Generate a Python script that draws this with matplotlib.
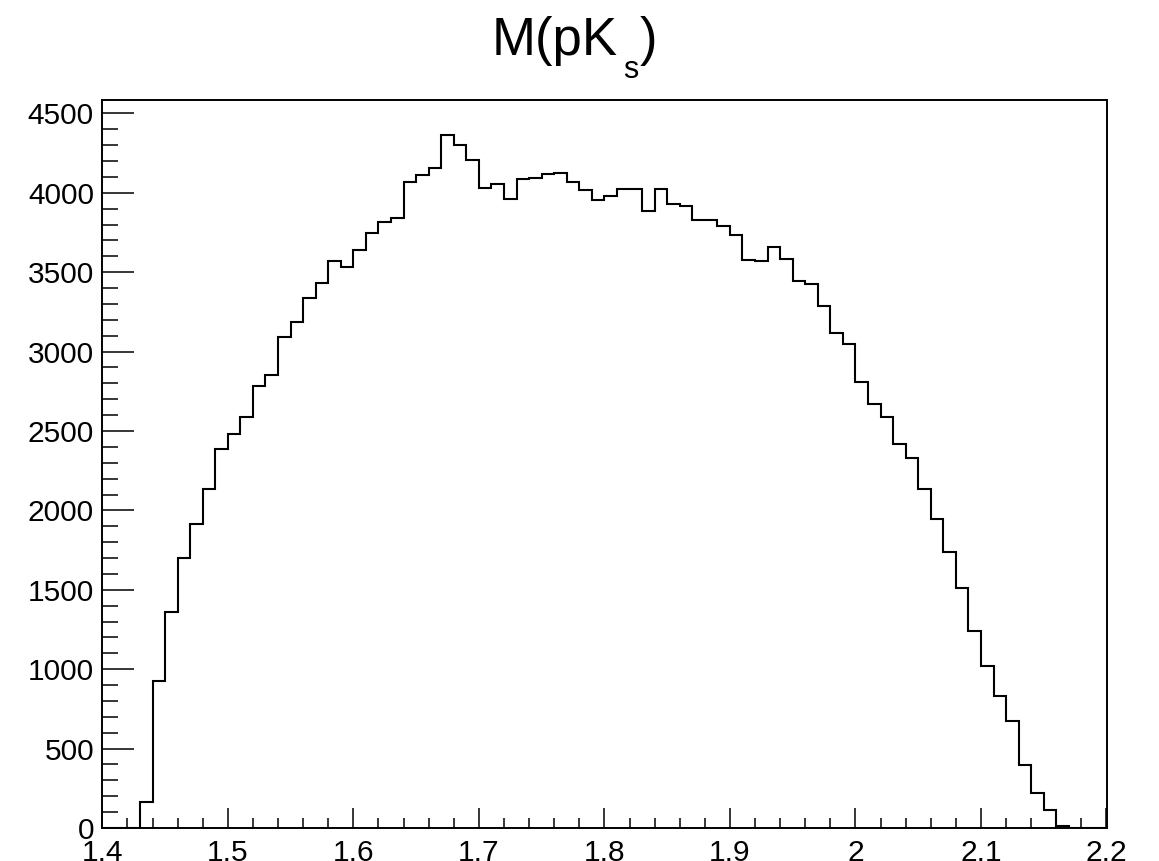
import numpy as np
import matplotlib
matplotlib.use("Agg")
import matplotlib.pyplot as plt
from matplotlib.ticker import MultipleLocator

# ---- data ----
bin_low = 1.40
bin_width = 0.01
counts = [
    0, 0, 0, 166, 926, 1362, 1702, 1916, 2137, 2387,          # 1.40-1.49
    2479, 2586, 2785, 2855, 3092, 3188, 3337, 3430, 3568, 3533,  # 1.50-1.59
    3640, 3747, 3818, 3843, 4071, 4110, 4159, 4366, 4304, 4208,  # 1.60-1.69
    4033, 4055, 3959, 4087, 4093, 4120, 4125, 4068, 4015, 3957,  # 1.70-1.79
    3980, 4022, 4026, 3888, 4026, 3931, 3915, 3829, 3826, 3793,  # 1.80-1.89
    3736, 3575, 3573, 3656, 3585, 3447, 3423, 3284, 3114, 3046,  # 1.90-1.99
    2810, 2672, 2588, 2418, 2328, 2133, 1948, 1740, 1513, 1242,  # 2.00-2.09
    1022, 829, 674, 397, 220, 111, 15, 3, 0, 0,                  # 2.10-2.19
]
x_ticks = [1.4, 1.5, 1.6, 1.7, 1.8, 1.9, 2.0, 2.1, 2.2]
x_ticklabels = ["1.4", "1.5", "1.6", "1.7", "1.8", "1.9", "2", "2.1", "2.2"]
y_ticks = [0, 500, 1000, 1500, 2000, 2500, 3000, 3500, 4000, 4500]
title_main = "M(pK"
title_sub = "s"
title_end = ")"

edges = np.round(bin_low + bin_width * np.arange(len(counts) + 1), 4)

plt.rcParams['font.family'] = ['Liberation Sans', 'DejaVu Sans']

W, H = 1159, 861
fig = plt.figure(figsize=(W / 100, H / 100), dpi=100)
ax = fig.add_axes([102.3 / W, 1 - 828 / H, (1106.5 - 102.3) / W, (828 - 100) / H])

ax.stairs(counts, edges, color='black', linewidth=1.5, baseline=0)

ax.set_xlim(1.4, 2.2)
ax.set_ylim(0, max(counts) * 1.05)

ax.set_xticks(x_ticks)
ax.set_xticklabels(x_ticklabels)
ax.set_yticks(y_ticks)
ax.set_yticklabels([str(v) for v in y_ticks])
ax.xaxis.set_minor_locator(MultipleLocator(0.02))
ax.yaxis.set_minor_locator(MultipleLocator(100))

ax.tick_params(axis='both', which='both', direction='in', top=False, right=False,
               width=1.1, colors='black', labelsize=21.5)
ax.tick_params(axis='y', which='major', length=23, pad=6)
ax.tick_params(axis='y', which='minor', length=11.5)
ax.tick_params(axis='x', which='major', length=14.5, pad=8)
ax.tick_params(axis='x', which='minor', length=7.2)
for s in ax.spines.values():
    s.set_linewidth(1.4)

# ---- title: M(pK_s) built from pieces ----
fig.canvas.draw()
renderer = fig.canvas.get_renderer()
base_y = 1 - 55 / H
t1 = fig.text(492 / W, base_y, title_main, fontsize=38, va='baseline', ha='left')
bb = t1.get_window_extent(renderer)
t2 = fig.text((bb.x1 + 5) / W, 1 - 78 / H, title_sub, fontsize=22, va='baseline', ha='left')
bb2 = t2.get_window_extent(renderer)
t3 = fig.text((bb2.x1 + 1) / W, base_y, title_end, fontsize=38, va='baseline', ha='left')

fig.savefig("out.png", dpi=100)
